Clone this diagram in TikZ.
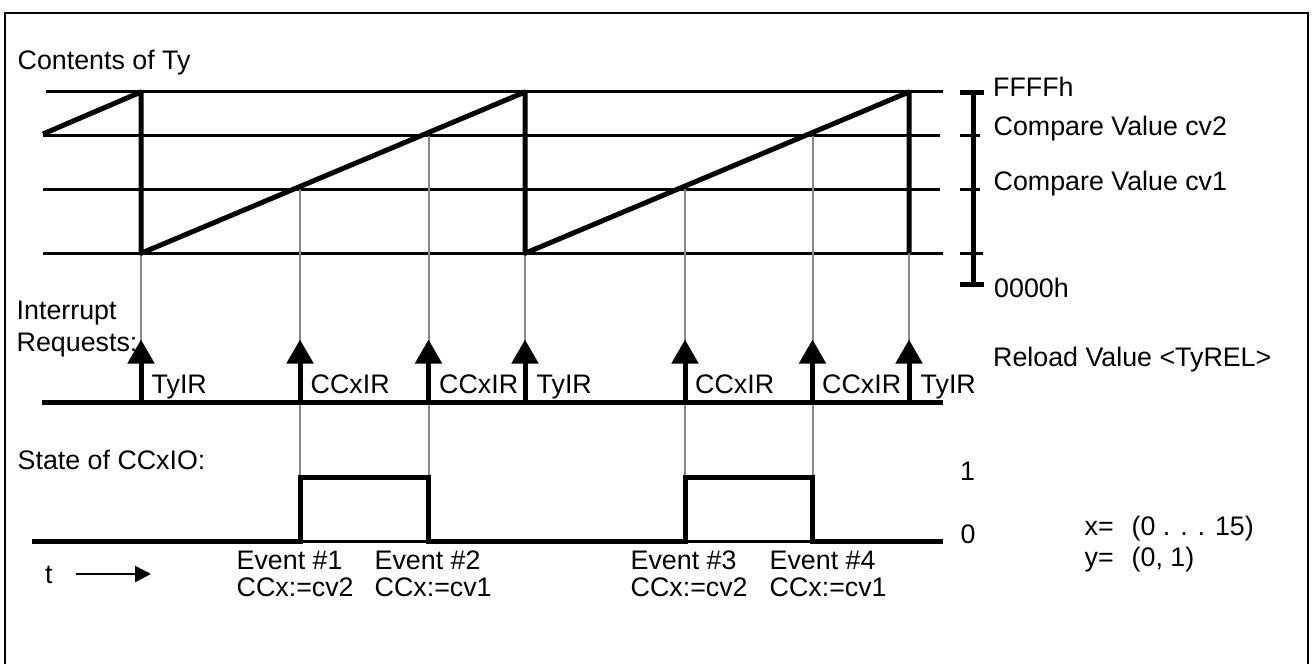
\documentclass[tikz,border=0pt]{standalone}
\usepackage{fontspec}
\setmainfont{Liberation Sans}
\usetikzlibrary{arrows.meta}
\tikzset{
  lbl/.style={font=\fontsize{26.8}{31}\selectfont, inner sep=0pt, anchor=base west},
  frameline/.style={line width=2pt},
  levelline/.style={line width=3pt},
  sawline/.style={line width=5pt, line join=round},
  guide/.style={draw=black!47, line width=2pt},
  sigline/.style={line width=5pt, line join=miter},
  axisline/.style={line width=3pt},
  irbase/.style={line width=4.5pt},
  irq/.style={line width=5pt, -{Triangle[length=24pt,width=26pt]}},
  barline/.style={line width=5pt},
  endtick/.style={line width=4.5pt},
  midtick/.style={line width=3pt},
  tarrow/.style={line width=2.5pt, -{Triangle[length=16pt,width=16pt]}},
}
\begin{document}
\begin{tikzpicture}[x=1pt,y=-1pt]
\useasboundingbox (0,0) rectangle (1312,664);
% frame (open at the bottom)
\draw[frameline] (5,664) -- (5,12.5) -- (1308,12.5) -- (1308,664);

% counter level lines
\draw[levelline] (46,91.5) -- (943,91.5);
\draw[levelline] (43,135.7) -- (940,135.7);
\draw[levelline] (43,189.3) -- (940,189.3);
\draw[levelline] (43,253.3) -- (943,253.3);

% grey guide lines
\foreach \gx in {141,525,909} {\draw[guide] (\gx,253.3) -- (\gx,345);}
\foreach \gx in {300,685} {\draw[guide] (\gx,189.3) -- (\gx,477.7);}
\foreach \gx in {428.5,812.5} {\draw[guide] (\gx,135.7) -- (\gx,477.7);}

% sawtooth contents of Ty
\draw[sawline] (43,134) -- (141,92) -- (141,253.3) -- (525,92) -- (525,253.3) -- (909,92) -- (909,253.3);

% scale bar
\draw[barline] (973,92.7) -- (973,284.5);
\draw[endtick] (960,92.7) -- (983.5,92.7);
\draw[endtick] (960,284.5) -- (983.5,284.5);
\draw[midtick] (960,135.7) -- (980,135.7);
\draw[midtick] (960,189.3) -- (980,189.3);
\draw[midtick] (960,253.3) -- (983,253.3);

% interrupt request line and arrows
\draw[irbase] (42,402.7) -- (943,402.7);
\foreach \ax in {141,300,428.5,525,685,812.5,909} {\draw[irq] (\ax,402.7) -- (\ax,339.5);}

% state of CCxIO
\draw[axisline] (300,541.7) -- (428.5,541.7);
\draw[axisline] (685,541.7) -- (812.5,541.7);
\draw[sigline] (32,541.7) -- (300,541.7) -- (300,477.7) -- (428.5,477.7) -- (428.5,541.7)
  -- (685,541.7) -- (685,477.7) -- (812.5,477.7) -- (812.5,541.7) -- (943,541.7);

% time arrow
\node[lbl] (t) at (45,583.5) {t};
\coordinate (ta) at (76,574);
\coordinate (tb) at (151,574);
\draw[tarrow] (ta) -- (tb);

% labels
\node[lbl] (contents) at (17.5,69) {Contents of Ty};
\node[lbl] (ffff) at (993,96.5) {FFFFh};
\node[lbl] (cv2) at (993.5,135.5) {Compare Value cv2};
\node[lbl] (cv1) at (993.5,190.5) {Compare Value cv1};
\node[lbl] (zero) at (994,297) {0000h};
\node[lbl] (reload) at (993,366.5) {Reload Value <TyREL>};
\node[lbl] (intr) at (16.5,319) {Interrupt};
\node[lbl] (req) at (16.5,351) {Requests:};
\node[lbl] (ir1) at (151.5,393.5) {TyIR};
\node[lbl] (ir2) at (310.5,393.5) {CCxIR};
\node[lbl] (ir3) at (439,393.5) {CCxIR};
\node[lbl] (ir4) at (536.5,393.5) {TyIR};
\node[lbl] (ir5) at (695,393.5) {CCxIR};
\node[lbl] (ir6) at (822,393.5) {CCxIR};
\node[lbl] (ir7) at (920.5,393.5) {TyIR};
\node[lbl] (state) at (17.5,469) {State of CCxIO:};
\node[lbl] (one) at (960,480.5) {1};
\node[lbl] (nil) at (960.5,543.5) {0};
\node[lbl] (ev1) at (236.5,569.5) {Event \#1};
\node[lbl] (cc1) at (236.5,596.5) {CCx:=cv2};
\node[lbl] (ev2) at (374.5,569.5) {Event \#2};
\node[lbl] (cc2) at (374.5,596.5) {CCx:=cv1};
\node[lbl] (ev3) at (630.5,569.5) {Event \#3};
\node[lbl] (cc3) at (630.5,596.5) {CCx:=cv2};
\node[lbl] (ev4) at (769.5,569.5) {Event \#4};
\node[lbl] (cc4) at (769.5,596.5) {CCx:=cv1};
\node[lbl] (xr) at (1084.5,535.5) {\makebox[47pt][l]{x=}(0 . . . 15)};
\node[lbl] (yr) at (1084.5,566.5) {\makebox[47pt][l]{y=}(0, 1)};
\end{tikzpicture}
\end{document}
